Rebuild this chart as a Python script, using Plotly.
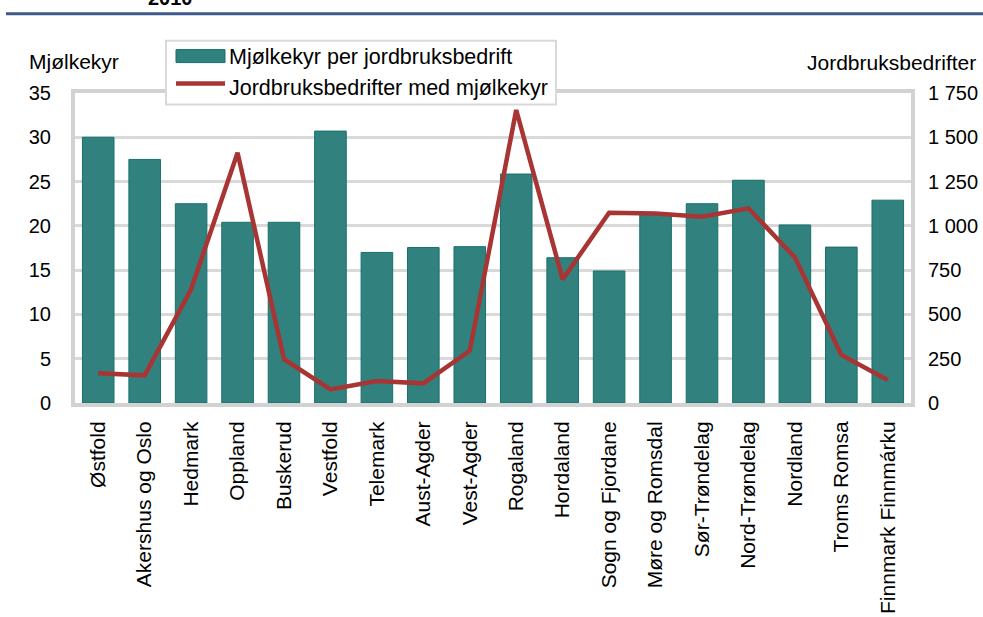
import plotly.graph_objects as go

# ---- data ----
fylker = ["Østfold", "Akershus og Oslo", "Hedmark", "Oppland", "Buskerud", "Vestfold",
          "Telemark", "Aust-Agder", "Vest-Agder", "Rogaland", "Hordaland",
          "Sogn og Fjordane", "Møre og Romsdal", "Sør-Trøndelag", "Nord-Trøndelag",
          "Nordland", "Troms Romsa", "Finnmark Finnmárku"]
kyr_per_bedrift = [30.0, 27.5, 22.5, 20.4, 20.4, 30.7, 17.0, 17.55, 17.65, 25.85,
                   16.4, 14.9, 21.4, 22.5, 25.15, 20.1, 17.6, 22.9]
bedrifter = [168, 156, 642, 1413, 247, 77, 124, 111, 295, 1654,
             698, 1074, 1070, 1052, 1099, 822, 271, 130]
left_ticks = [0, 5, 10, 15, 20, 25, 30, 35]
right_ticks = [0, 250, 500, 750, 1000, 1250, 1500, 1750]
right_ticktext = ["0", "250", "500", "750", "1 000", "1 250", "1 500", "1 750"]
series_names = ["Mjølkekyr per jordbruksbedrift", "Jordbruksbedrifter med mjølkekyr"]

# ---- layout geometry (pixels) ----
W, H = 983, 617
L, R, T, B = 75, 911, 92.5, 403.3
FONT = "Liberation Sans, Arial, sans-serif"
GRID = "#D9D9D9"
TEAL = "#31827F"
RED = "#A83434"


def px_x(x):
    return (x - L) / (R - L)


def px_y(y):
    return (B - y) / (B - T)


fig = go.Figure()
fig.add_trace(go.Bar(x=fylker, y=kyr_per_bedrift, name=series_names[0],
                     marker=dict(color=TEAL, line=dict(color="#17706B", width=1)),
                     showlegend=False))
fig.add_trace(go.Scatter(x=fylker, y=bedrifter, name=series_names[1], yaxis="y2",
                         mode="lines", line=dict(color=RED, width=4.5),
                         showlegend=False))

shapes = [
    # blue rule at top
    dict(type="line", xref="paper", yref="paper", x0=px_x(6), x1=px_x(983),
         y0=px_y(13), y1=px_y(13), line=dict(color="#3E5B8B", width=3)),
    # legend box
    dict(type="rect", xref="paper", yref="paper", x0=px_x(166), x1=px_x(556),
         y0=px_y(104), y1=px_y(40), fillcolor="white", line=dict(color=GRID, width=2),
         layer="above"),
    dict(type="rect", xref="paper", yref="paper", x0=px_x(176), x1=px_x(225),
         y0=px_y(62), y1=px_y(49), fillcolor=TEAL, line=dict(color="#17706B", width=1),
         layer="above"),
    dict(type="line", xref="paper", yref="paper", x0=px_x(176), x1=px_x(225),
         y0=px_y(83), y1=px_y(83), line=dict(color=RED, width=4.5), layer="above"),
]

annotations = [
    dict(text="<b>2010</b>", xref="paper", yref="paper", x=px_x(170), y=px_y(10),
         xanchor="center", yanchor="bottom", showarrow=False,
         font=dict(family=FONT, size=20, color="#000")),
    dict(text="Mjølkekyr", xref="paper", yref="paper", x=px_x(27), y=px_y(61),
         xanchor="left", yanchor="middle", showarrow=False,
         font=dict(family=FONT, size=21, color="#000")),
    dict(text="Jordbruksbedrifter", xref="paper", yref="paper", x=px_x(978), y=px_y(62),
         xanchor="right", yanchor="middle", showarrow=False,
         font=dict(family=FONT, size=21, color="#000")),
    dict(text=series_names[0], xref="paper", yref="paper", x=px_x(227), y=px_y(56),
         xanchor="left", yanchor="middle", showarrow=False,
         font=dict(family=FONT, size=21.5, color="#000")),
    dict(text=series_names[1], xref="paper", yref="paper", x=px_x(227), y=px_y(87),
         xanchor="left", yanchor="middle", showarrow=False,
         font=dict(family=FONT, size=21.5, color="#000")),
]

fig.update_layout(
    width=W, height=H,
    margin=dict(l=L, r=W - R, t=T, b=H - B, pad=0, autoexpand=False),
    paper_bgcolor="white", plot_bgcolor="white",
    font=dict(family=FONT, size=20, color="#000"),
    bargap=0.32,
    showlegend=False,
    shapes=shapes,
    annotations=annotations,
    xaxis=dict(type="category", tickangle=-90, tickfont=dict(size=21), automargin=False,
               showline=True, linecolor="#D2D2D2", linewidth=4, mirror=True,
               ticks="", showgrid=False, ticklabelstandoff=6),
    yaxis=dict(range=[0, 35], tickvals=left_ticks, showgrid=True, gridcolor=GRID,
               gridwidth=3, showline=True, linecolor="#D2D2D2", linewidth=4,
               mirror=True, ticks="", zeroline=False, ticklabelstandoff=16,
               tickfont=dict(size=20), automargin=False),
    yaxis2=dict(range=[0, 1750], overlaying="y", side="right", tickvals=right_ticks,
                ticktext=right_ticktext, showgrid=False, zeroline=False, ticks="",
                showline=False, ticklabelstandoff=16, tickfont=dict(size=20),
                automargin=False),
)

fig.write_html("out.html", config={"displayModeBar": False},
               post_script="document.body.style.margin='0';"
                           "document.body.style.overflow='hidden';")
